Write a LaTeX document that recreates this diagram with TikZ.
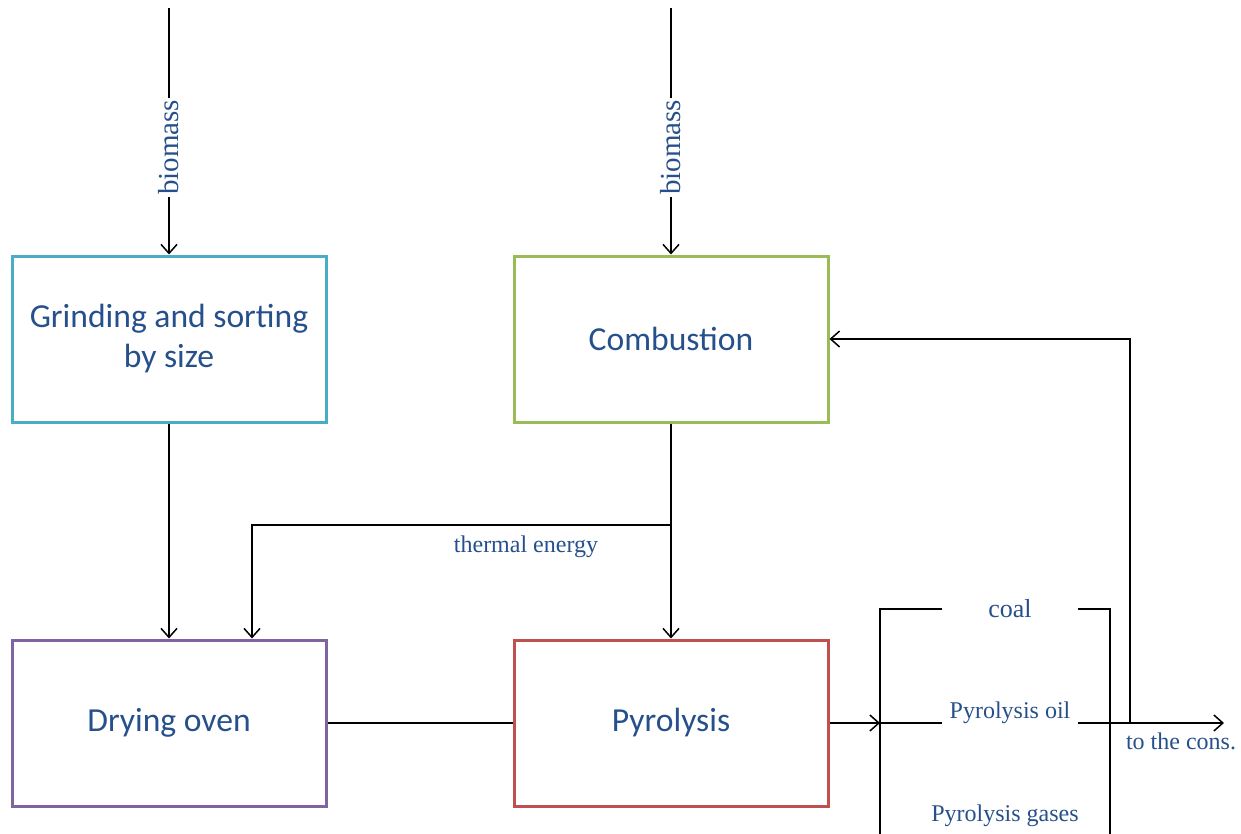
\documentclass[tikz,border=0pt]{standalone}
\usepackage{fontspec}
\setmainfont{Liberation Serif}
\newfontfamily\boxfont{Carlito}
\usetikzlibrary{arrows.meta}
\definecolor{txtblue}{RGB}{38,80,140}
\definecolor{boxcyan}{RGB}{75,172,198}
\definecolor{boxgreen}{RGB}{155,187,89}
\definecolor{boxpurple}{RGB}{128,100,162}
\definecolor{boxred}{RGB}{192,80,77}
\tikzset{
  box/.style={draw, line width=1.5pt, minimum width=157pt, minimum height=83pt,
    align=center, text=txtblue, font=\boxfont\fontsize{16.8}{20}\selectfont},
  lbl/.style={text=txtblue, font=\fontsize{12}{14}\selectfont, inner sep=1pt},
  prod/.style={lbl, minimum width=67.5pt},
  flow/.style={-{Straight Barb[length=4.5pt,width=8pt]}, line width=0.75pt},
  wire/.style={line width=0.75pt},
}
\begin{document}
\begin{tikzpicture}[x=0.5pt,y=-0.5pt]
  \useasboundingbox (0,0) rectangle (1241,834);

  % process blocks
  \node[box, draw=boxcyan] (grind) at (169,339) {Grinding and sorting\\by size};
  \node[box, draw=boxgreen] (comb) at (671,339) {Combustion};
  \node[box, draw=boxpurple] (dry) at (169,723) {Drying oven};
  \node[box, draw=boxred] (pyro) at (671,723) {Pyrolysis};

  % inputs
  \coordinate (in1) at (169,8);
  \coordinate (in2) at (671,8);
  \draw[flow] (in1) -- node[pos=0.565, lbl, rotate=90, fill=white, font=\fontsize{14.5}{16}\selectfont] {biomass} (grind.north);
  \draw[flow] (in2) -- node[pos=0.565, lbl, rotate=90, fill=white, font=\fontsize{14.5}{16}\selectfont] {biomass} (comb.north);

  % main flow
  \draw[flow] (grind.south) -- (dry.north);
  \draw[flow] (comb.south) -- (pyro.north);
  \draw[wire] (dry.east) -- (pyro.west);

  % thermal energy branch
  \coordinate (split) at (671,525);
  \draw[flow] (split) -| ([xshift=41.5pt]dry.north);
  \node[lbl] (heat) at (526,547) {thermal energy};

  % products
  \coordinate (bin) at (880,723);
  \draw[flow] (pyro.east) -- (bin);
  \node[prod, font=\fontsize{13}{15}\selectfont] (coal) at (1010,609) {coal};
  \node[prod] (oil) at (1010,713) {Pyrolysis oil};
  \node[lbl] (gas) at (1005,816) {Pyrolysis gases};
  \draw[wire] (880,834) |- (coal.west);
  \draw[wire] (coal.east) -| (1110,834);
  \draw[wire] (bin) -- (oil.west |- bin);
  \coordinate (out) at (1224,723);
  \draw[flow] (oil.east |- bin) -- (out);
  \node[lbl] (cons) at (1181,741) {to the cons.};

  % feedback to combustion
  \coordinate (tap) at (1130,723);
  \draw[flow] (tap) |- (comb.east);
\end{tikzpicture}
\end{document}
